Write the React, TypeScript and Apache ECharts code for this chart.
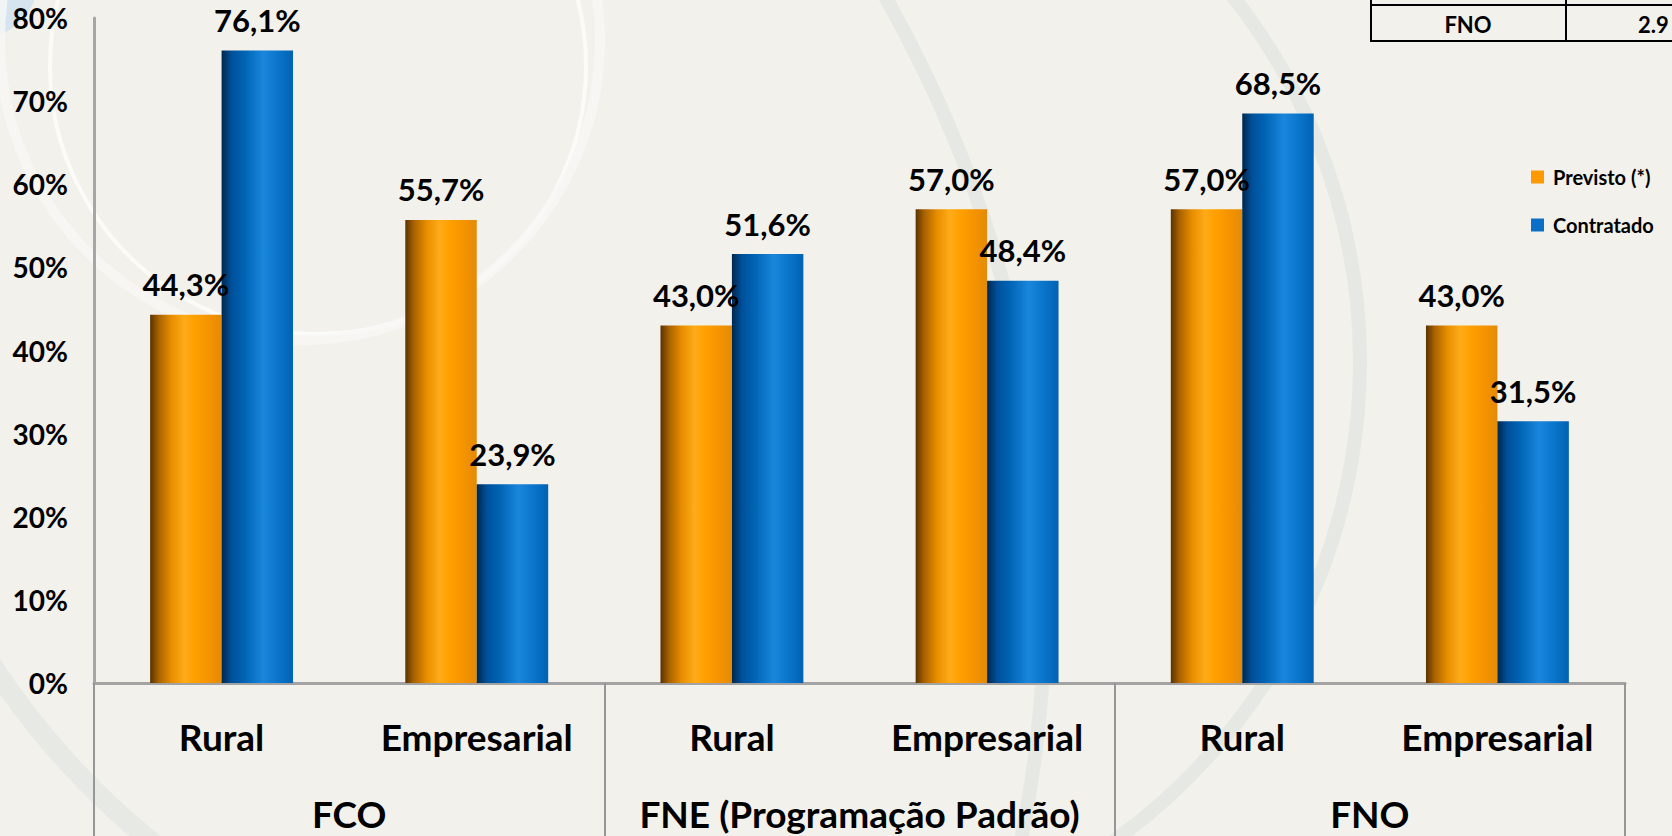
import React, { useEffect, useRef } from "react";
import * as echarts from "echarts";

const segments = ["Rural", "Empresarial"];
const groups = ["FCO", "FNE (Programação Padrão)", "FNO"];
const previsto = [44.3, 55.7, 43.0, 57.0, 57.0, 43.0];
const contratado = [76.1, 23.9, 51.6, 48.4, 68.5, 31.5];
const seriesNames = ["Previsto (*)", "Contratado"];
const yTicks = { min: 0, max: 80, interval: 10 };
const tableRow = ["FNO", "2.9"];

const FONT = "Lato";

function fmt(v: number) {
  return v.toFixed(1).replace(".", ",") + "%";
}

export default function App() {
  const ref = useRef<HTMLDivElement>(null);
  useEffect(() => {
    document.body.style.margin = "0";
    const chart = echarts.init(ref.current!, undefined, { renderer: "svg" });
    const cats: string[] = [];
    groups.forEach((g, gi) => segments.forEach((s) => cats.push(s + "|" + gi)));

    const orange = new echarts.graphic.LinearGradient(0, 0, 1, 0, [
      { offset: 0, color: "#5a3300" },
      { offset: 0.12, color: "#a86200" },
      { offset: 0.3, color: "#e88e00" },
      { offset: 0.48, color: "#ffab18" },
      { offset: 0.62, color: "#ffa000" },
      { offset: 0.85, color: "#f39200" },
      { offset: 1, color: "#e38a08" },
    ]);
    const blue = new echarts.graphic.LinearGradient(0, 0, 1, 0, [
      { offset: 0, color: "#00284d" },
      { offset: 0.14, color: "#00509a" },
      { offset: 0.32, color: "#0064b4" },
      { offset: 0.58, color: "#1a86dc" },
      { offset: 0.8, color: "#0a74cb" },
      { offset: 1, color: "#0062b2" },
    ]);

    const labelStyle = {
      show: true,
      position: "top",
      distance: 15,
      fontFamily: FONT,
      fontWeight: "bold",
      fontSize: 31,
      color: "#000",
      formatter: (p: any) => fmt(p.value),
    };

    const deco = (o: any) => ({ z: -10, silent: true, ...o });

    chart.setOption({
      animation: false,
      backgroundColor: "#f3f1eb",
      graphic: [
        deco({ type: "circle", shape: { cx: -20, cy: -20, r: 58 }, style: { fill: "#d6e4ef" } }),
        deco({ type: "circle", shape: { cx: 318, cy: 66, r: 268 }, style: { fill: "none", stroke: "#fbfbf8", lineWidth: 4 } }),
        deco({ type: "circle", shape: { cx: 300, cy: 40, r: 300 }, style: { fill: "none", stroke: "#f8f8f5", lineWidth: 10, opacity: 0.8 } }),
        deco({ type: "arc", shape: { cx: 771, cy: 362, r: 589, startAngle: -0.95, endAngle: 1.3, clockwise: true }, style: { fill: "none", stroke: "#e6e8e4", lineWidth: 14 } }),
        deco({ type: "arc", shape: { cx: -173, cy: 600, r: 1218, startAngle: -0.6, endAngle: 0.25, clockwise: true }, style: { fill: "none", stroke: "#e6e8e4", lineWidth: 14 } }),
        deco({ type: "arc", shape: { cx: 640, cy: 240, r: 775, startAngle: 2.15, endAngle: 2.65, clockwise: true }, style: { fill: "none", stroke: "#e7e9e5", lineWidth: 20 } }),
        // top-right table fragment
        { type: "line", shape: { x1: 1371, y1: 0, x2: 1371, y2: 42 }, style: { stroke: "#000", lineWidth: 2 }, silent: true },
        { type: "line", shape: { x1: 1566, y1: 0, x2: 1566, y2: 42 }, style: { stroke: "#000", lineWidth: 2 }, silent: true },
        { type: "line", shape: { x1: 1370, y1: 5, x2: 1672, y2: 5 }, style: { stroke: "#000", lineWidth: 2 }, silent: true },
        { type: "line", shape: { x1: 1370, y1: 41, x2: 1672, y2: 41 }, style: { stroke: "#000", lineWidth: 2 }, silent: true },
        { type: "text", x: 1468, y: 24, style: { text: tableRow[0], font: `bold 22px ${FONT}`, fill: "#000", align: "center", verticalAlign: "middle" }, silent: true },
        { type: "text", x: 1638, y: 24, style: { text: tableRow[1], font: `bold 22px ${FONT}`, fill: "#000", align: "left", verticalAlign: "middle" }, silent: true },
      ],
      legend: {
        orient: "vertical",
        left: 1531,
        top: 167,
        padding: 0,
        itemWidth: 13,
        itemHeight: 13,
        itemGap: 28,
        icon: "rect",
        textStyle: { fontFamily: FONT, fontWeight: "bold", fontSize: 20, color: "#000", padding: [0, 0, 0, 4] },
        data: [
          { name: seriesNames[0], itemStyle: { color: "#ff9900" } },
          { name: seriesNames[1], itemStyle: { color: "#0a6fc6" } },
        ],
      },
      grid: { left: 94, right: 47, top: 18, bottom: 153, containLabel: false },
      xAxis: [
        {
          type: "category",
          data: cats,
          axisLine: { show: true, lineStyle: { color: "#a3a3a3", width: 3 } },
          axisTick: { show: false },
          axisLabel: {
            margin: 35,
            fontFamily: FONT,
            fontWeight: "bold",
            fontSize: 37,
            color: "#000",
            interval: 0,
            formatter: (v: string) => v.split("|")[0],
          },
        },
        {
          type: "category",
          data: groups,
          position: "bottom",
          axisLine: { show: false },
          axisTick: { show: true, length: 160, lineStyle: { color: "#969696", width: 2 } },
          axisLabel: {
            margin: 112,
            fontFamily: FONT,
            fontWeight: "bold",
            fontSize: 37,
            color: "#000",
            interval: 0,
          },
        },
      ],
      yAxis: {
        type: "value",
        min: yTicks.min,
        max: yTicks.max,
        interval: yTicks.interval,
        splitLine: { show: false },
        axisLine: { show: true, lineStyle: { color: "#a6a6a6", width: 3 } },
        axisTick: { show: false },
        axisLabel: {
          margin: 26,
          fontFamily: FONT,
          fontWeight: "bold",
          fontSize: 28,
          color: "#000",
          formatter: (v: number) => v + "%",
          verticalAlign: "middle",
          padding: [12, 0, 0, 0],
        },
      },
      series: [
        {
          name: seriesNames[0],
          type: "bar",
          data: previsto,
          barGap: "0%",
          barCategoryGap: "44%",
          itemStyle: { color: orange },
          label: labelStyle,
        },
        {
          name: seriesNames[1],
          type: "bar",
          data: contratado,
          barGap: "0%",
          barCategoryGap: "44%",
          itemStyle: { color: blue },
          label: labelStyle,
        },
      ],
    });
    return () => chart.dispose();
  }, []);
  return <div ref={ref} style={{ width: 1672, height: 836 }} />;
}
